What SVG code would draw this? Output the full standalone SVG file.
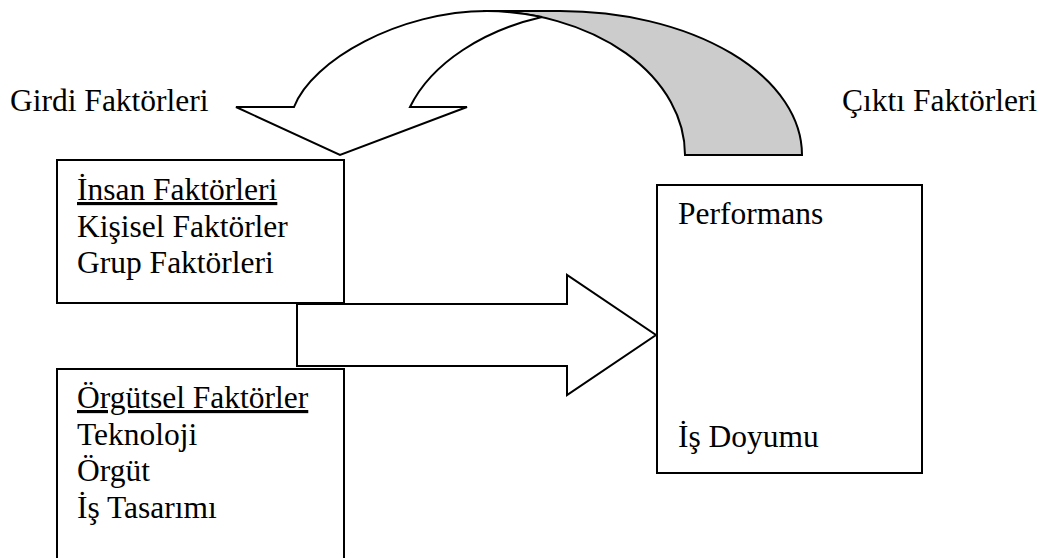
<svg xmlns="http://www.w3.org/2000/svg" width="1044" height="558" viewBox="0 0 1044 558">
<style>
.box{fill:#fff;stroke:#000;stroke-width:2}
.shape{stroke:#000;stroke-width:2;stroke-linejoin:miter}
.u{text-decoration:underline}
</style>
<rect width="1044" height="558" fill="#fff"/>
<g id="connectors">
<g id="feedback-arrow">
<path class="shape" fill="#cccccc" d="M483,11 L560,11 A242,144 0 0,1 802,155 L685,155 A202,144 0 0,0 483,11 Z"/>
<path class="shape" fill="#fff" d="M236,107 L294,107 C312,60 400,11 487,11 A202,144 0 0,1 542,17 C485,30 432,62 410,107 L467,107 L340,155 Z"/>
</g>
<path id="main-arrow" class="shape" fill="#fff" d="M297,304 L567,304 L567,275 L656,335 L567,395 L567,366 L297,366 Z"/>
</g>
<g font-family="Liberation Serif, Times New Roman, serif" font-size="31.5" fill="#000">
<g id="label-girdi"><text x="10" y="111">Girdi Faktörleri</text></g>
<g id="label-cikti"><text x="842" y="111">Çıktı Faktörleri</text></g>
<g id="insan">
<rect class="box" x="57" y="160" width="287" height="143"/>
<text x="77" y="200" class="u">İnsan Faktörleri</text>
<text x="77" y="237">Kişisel Faktörler</text>
<text x="77" y="273">Grup Faktörleri</text>
</g>
<g id="orgutsel">
<rect class="box" x="57" y="369" width="287" height="200"/>
<text x="77" y="408" class="u">Örgütsel Faktörler</text>
<text x="77" y="445">Teknoloji</text>
<text x="77" y="481">Örgüt</text>
<text x="77" y="518">İş Tasarımı</text>
</g>
<g id="cikti">
<rect class="box" x="657" y="185" width="265" height="288"/>
<text x="678" y="224">Performans</text>
<text x="678" y="447">İş Doyumu</text>
</g>
</g>
</svg>
